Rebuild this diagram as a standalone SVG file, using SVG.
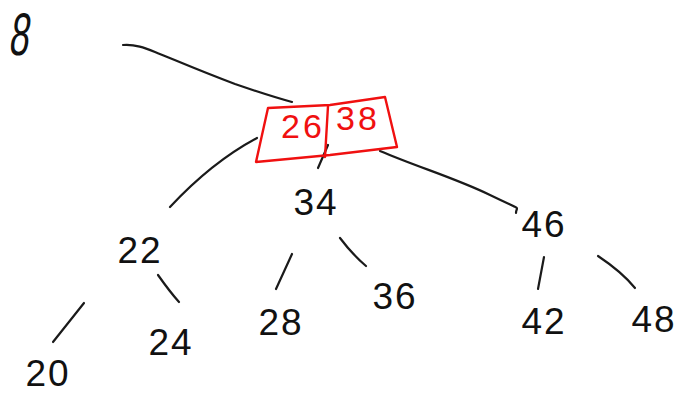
<svg xmlns="http://www.w3.org/2000/svg" width="689" height="409" viewBox="0 0 689 409">
<style>
.bg{fill:#ffffff}
.edge{fill:none;stroke:#1a1a1a;stroke-width:2.2;stroke-linecap:round;stroke-linejoin:round}
.lbl{font-family:"Liberation Sans","DejaVu Sans",sans-serif;font-size:37px;fill:#111;text-anchor:middle;letter-spacing:2px}
.red{font-family:"Liberation Sans","DejaVu Sans",sans-serif;font-size:34px;fill:#f01010;text-anchor:middle;letter-spacing:3px}
.box{fill:none;stroke:#f01010;stroke-width:2.4;stroke-linejoin:round;stroke-linecap:round}
</style>
<rect class="bg" x="0" y="0" width="689" height="409"/>
<g id="connectors">
<path class="edge" d="M123,45 C135,44 145,48 155,52 C175,60 200,71 235,84 Q270,96 292,102"/>
<path class="edge" d="M257,138 Q212,162 170,207"/>
<path class="edge" d="M328,145 L318,168"/>
<path class="edge" d="M380,151 C420,168 455,178 490,195 S516,205 516,213"/>
<path class="edge" d="M84,303 L53,342"/>
<path class="edge" d="M158,275 Q170,292 179,302"/>
<path class="edge" d="M292,254 L276,289"/>
<path class="edge" d="M340,238 Q352,254 366,266"/>
<path class="edge" d="M544,257 L538,289"/>
<path class="edge" d="M598,256 Q622,272 635,288"/>
</g>
<g id="label-8"><text class="lbl" transform="translate(18,55) skewX(-8) scale(0.6,1)" style="font-size:60px;letter-spacing:0">8</text></g>
<g id="node-root">
<path class="box" d="M268,108 L330,105 L385,97 L397,147 L330,155 L256,162 Z"/>
<path class="box" d="M328,106 L325,157"/>
<text class="red" x="303" y="138">26</text>
<text class="red" x="358" y="130">38</text>
</g>
<g id="node-34"><text class="lbl" x="316" y="215">34</text></g>
<g id="node-22"><text class="lbl" x="140" y="263">22</text></g>
<g id="node-46"><text class="lbl" x="544" y="237">46</text></g>
<g id="node-20"><text class="lbl" x="48" y="386">20</text></g>
<g id="node-24"><text class="lbl" x="171" y="355">24</text></g>
<g id="node-28"><text class="lbl" x="281" y="335">28</text></g>
<g id="node-36"><text class="lbl" x="395" y="309">36</text></g>
<g id="node-42"><text class="lbl" x="544" y="334">42</text></g>
<g id="node-48"><text class="lbl" x="654" y="332">48</text></g>
</svg>
